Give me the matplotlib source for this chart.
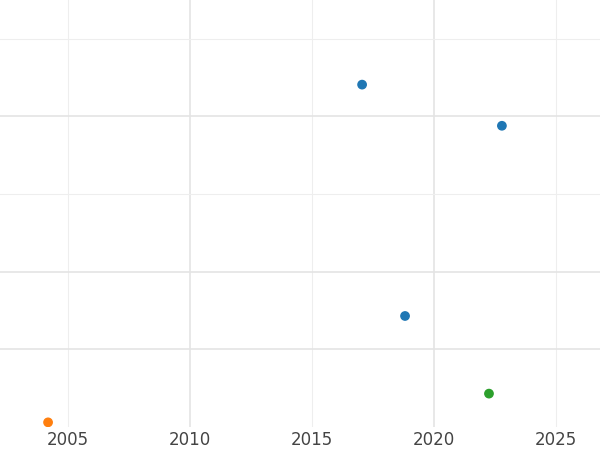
import matplotlib
matplotlib.use("Agg")
import matplotlib.pyplot as plt

years = [2017.05, 2022.78, 2018.81, 2022.25, 2004.18]
values = [4.41, 3.88, 1.43, 0.43, 0.06]
colors = ["#1f77b4", "#1f77b4", "#1f77b4", "#2ca02c", "#ff7f0e"]
xticks = [2005, 2010, 2015, 2020, 2025]

fig = plt.figure(figsize=(6, 4.5), dpi=100)
ax = fig.add_axes([0, 23/450, 1, 427/450])
for x in [2005, 2015, 2025]:
    ax.axvline(x, color="#eeeeee", lw=0.8, zorder=0)
for x in [2010, 2020]:
    ax.axvline(x, color="#e4e4e4", lw=1.2, zorder=0)
for y in [3, 5]:
    ax.axhline(y, color="#eeeeee", lw=0.8, zorder=0)
for y in [1, 2, 4]:
    ax.axhline(y, color="#e4e4e4", lw=1.2, zorder=0)
ax.scatter(years, values, c=colors, s=36, zorder=3)
ax.set_xlim(2002.21, 2026.8)
ax.set_ylim(0, 5.5)
ax.set_xticks(xticks)
ax.set_xticklabels([str(t) for t in xticks], color="#444444", fontsize=12)
ax.set_yticks([])
ax.tick_params(length=0, pad=3)
for s in ax.spines.values():
    s.set_visible(False)
fig.savefig("out.png")
